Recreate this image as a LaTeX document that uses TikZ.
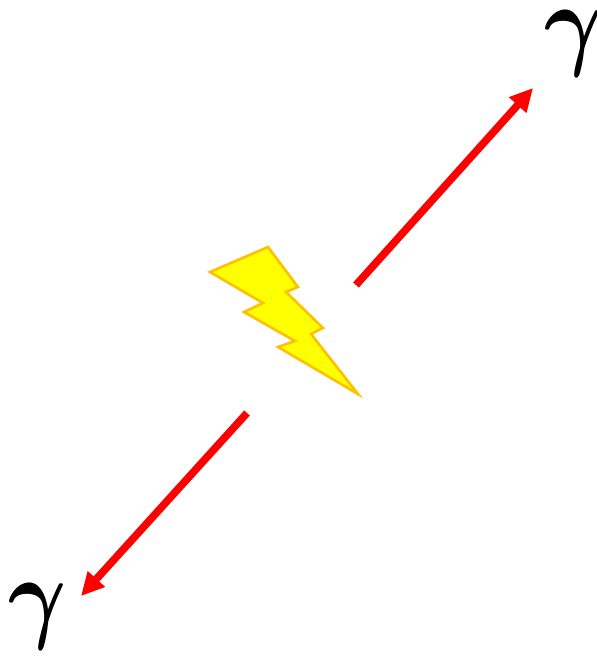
\documentclass[tikz,border=0pt]{standalone}
\usetikzlibrary{arrows.meta}
\definecolor{boltedge}{HTML}{FFC000}
\definecolor{boltfill}{HTML}{FFFF00}
\definecolor{arrowred}{HTML}{FF0000}

\begin{document}
\begin{tikzpicture}[
    x=1pt, y=-1pt,
    boltstyle/.style={
        draw=boltedge,
        fill=boltfill,
        line width=2.6pt
    },
    arrow/.style={
        -{Triangle[length=23pt, width=22pt]},
        draw=arrowred,
        line width=7.6pt
    },
    photon/.style={
        xscale=8.9,
        yscale=10.3,
        inner sep=0pt,
        font=\boldmath
    }
]

% Fix the page size
\useasboundingbox (0,0) rectangle (597,659);

% Lightning bolt
\draw[boltstyle] (268,247) -- (298,287) -- (286,292) -- (323,328) -- (311,334)
    -- (358,394) -- (278,347) -- (295,341) -- (244,312) -- (263,303)
    -- (210,272) -- cycle;

% Photon labels
\node[photon] (gammatop) at (574,44) {$\gamma$};
\node[photon] (gammabottom) at (38,617) {$\gamma$};

% Photon arrows
\coordinate (topstart) at (356,285);
\coordinate (toptip) at (533,88);
\coordinate (bottomstart) at (247,413);
\coordinate (bottomtip) at (81,596);
\draw[arrow] (topstart) -- (toptip);
\draw[arrow] (bottomstart) -- (bottomtip);

\end{tikzpicture}
\end{document}
